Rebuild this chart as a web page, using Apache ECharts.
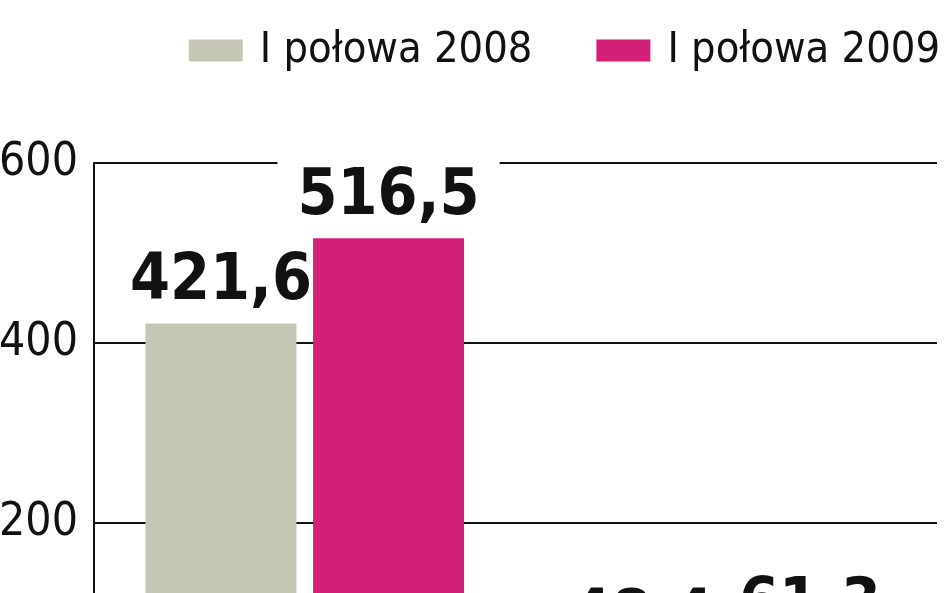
<!DOCTYPE html>
<html>
<head>
<meta charset="utf-8">
<script src="https://cdn.jsdelivr.net/npm/echarts@6/dist/echarts.min.js"></script>
<style>
  html, body { margin: 0; padding: 0; background: #fff; overflow: hidden; }
  #chart { width: 948px; height: 703px; }
</style>
</head>
<body>
<div id="chart"></div>
<script>
var categories = ['A', 'B'];
var seriesNames = ['I połowa 2008', 'I połowa 2009'];
var values2008 = [421.6, 48.4];
var values2009 = [516.5, 61.3];
var yTicks = [0, 200, 400, 600];

var FONT = '"DejaVu Sans Condensed", "Roboto", sans-serif';

var chart = echarts.init(document.getElementById('chart'));

function valueLabel(p) {
  return String(p.value).replace('.', ',');
}

function barLabel(withBg) {
  return {
    show: true,
    position: 'top',
    distance: 6,
    formatter: valueLabel,
    fontFamily: FONT,
    fontWeight: 'bold',
    fontSize: 64,
    lineHeight: 70,
    color: '#111',
    backgroundColor: withBg ? '#fff' : 'transparent',
    padding: [14, 20, 0, 20]
  };
}

var option = {
  animation: false,
  color: ['#c5c6b4', '#d41f78'],
  legend: {
    right: 3,
    top: 24,
    itemWidth: 54,
    itemHeight: 22,
    itemGap: 64,
    icon: 'rect',
    textStyle: {
      fontFamily: FONT,
      fontSize: 43,
      color: '#111',
      padding: [0, 0, 0, 12]
    },
    data: seriesNames
  },
  grid: {
    left: 94,
    right: 11,
    top: 163,
    bottom: 0,
    outerBoundsMode: 'none'
  },
  xAxis: {
    type: 'category',
    data: categories,
    axisLine: { show: false },
    axisTick: { show: false },
    axisLabel: { show: false }
  },
  yAxis: {
    type: 'value',
    min: yTicks[0],
    max: yTicks[yTicks.length - 1],
    interval: 200,
    axisLine: { show: true, lineStyle: { color: '#111', width: 2 } },
    axisTick: { show: false },
    axisLabel: {
      margin: 16,
      fontFamily: FONT,
      fontSize: 46,
      color: '#111',
      formatter: function (v) { return v === 0 ? '' : String(v); }
    },
    splitLine: { lineStyle: { color: '#111', width: 2 } }
  },
  series: [
    {
      name: seriesNames[0],
      type: 'bar',
      data: values2008,
      barWidth: 151,
      barGap: '11%',
      label: barLabel(false)
    },
    {
      name: seriesNames[1],
      type: 'bar',
      data: values2009,
      barWidth: 151,
      barGap: '11%',
      label: barLabel(true)
    }
  ]
};

chart.setOption(option);
</script>
</body>
</html>
